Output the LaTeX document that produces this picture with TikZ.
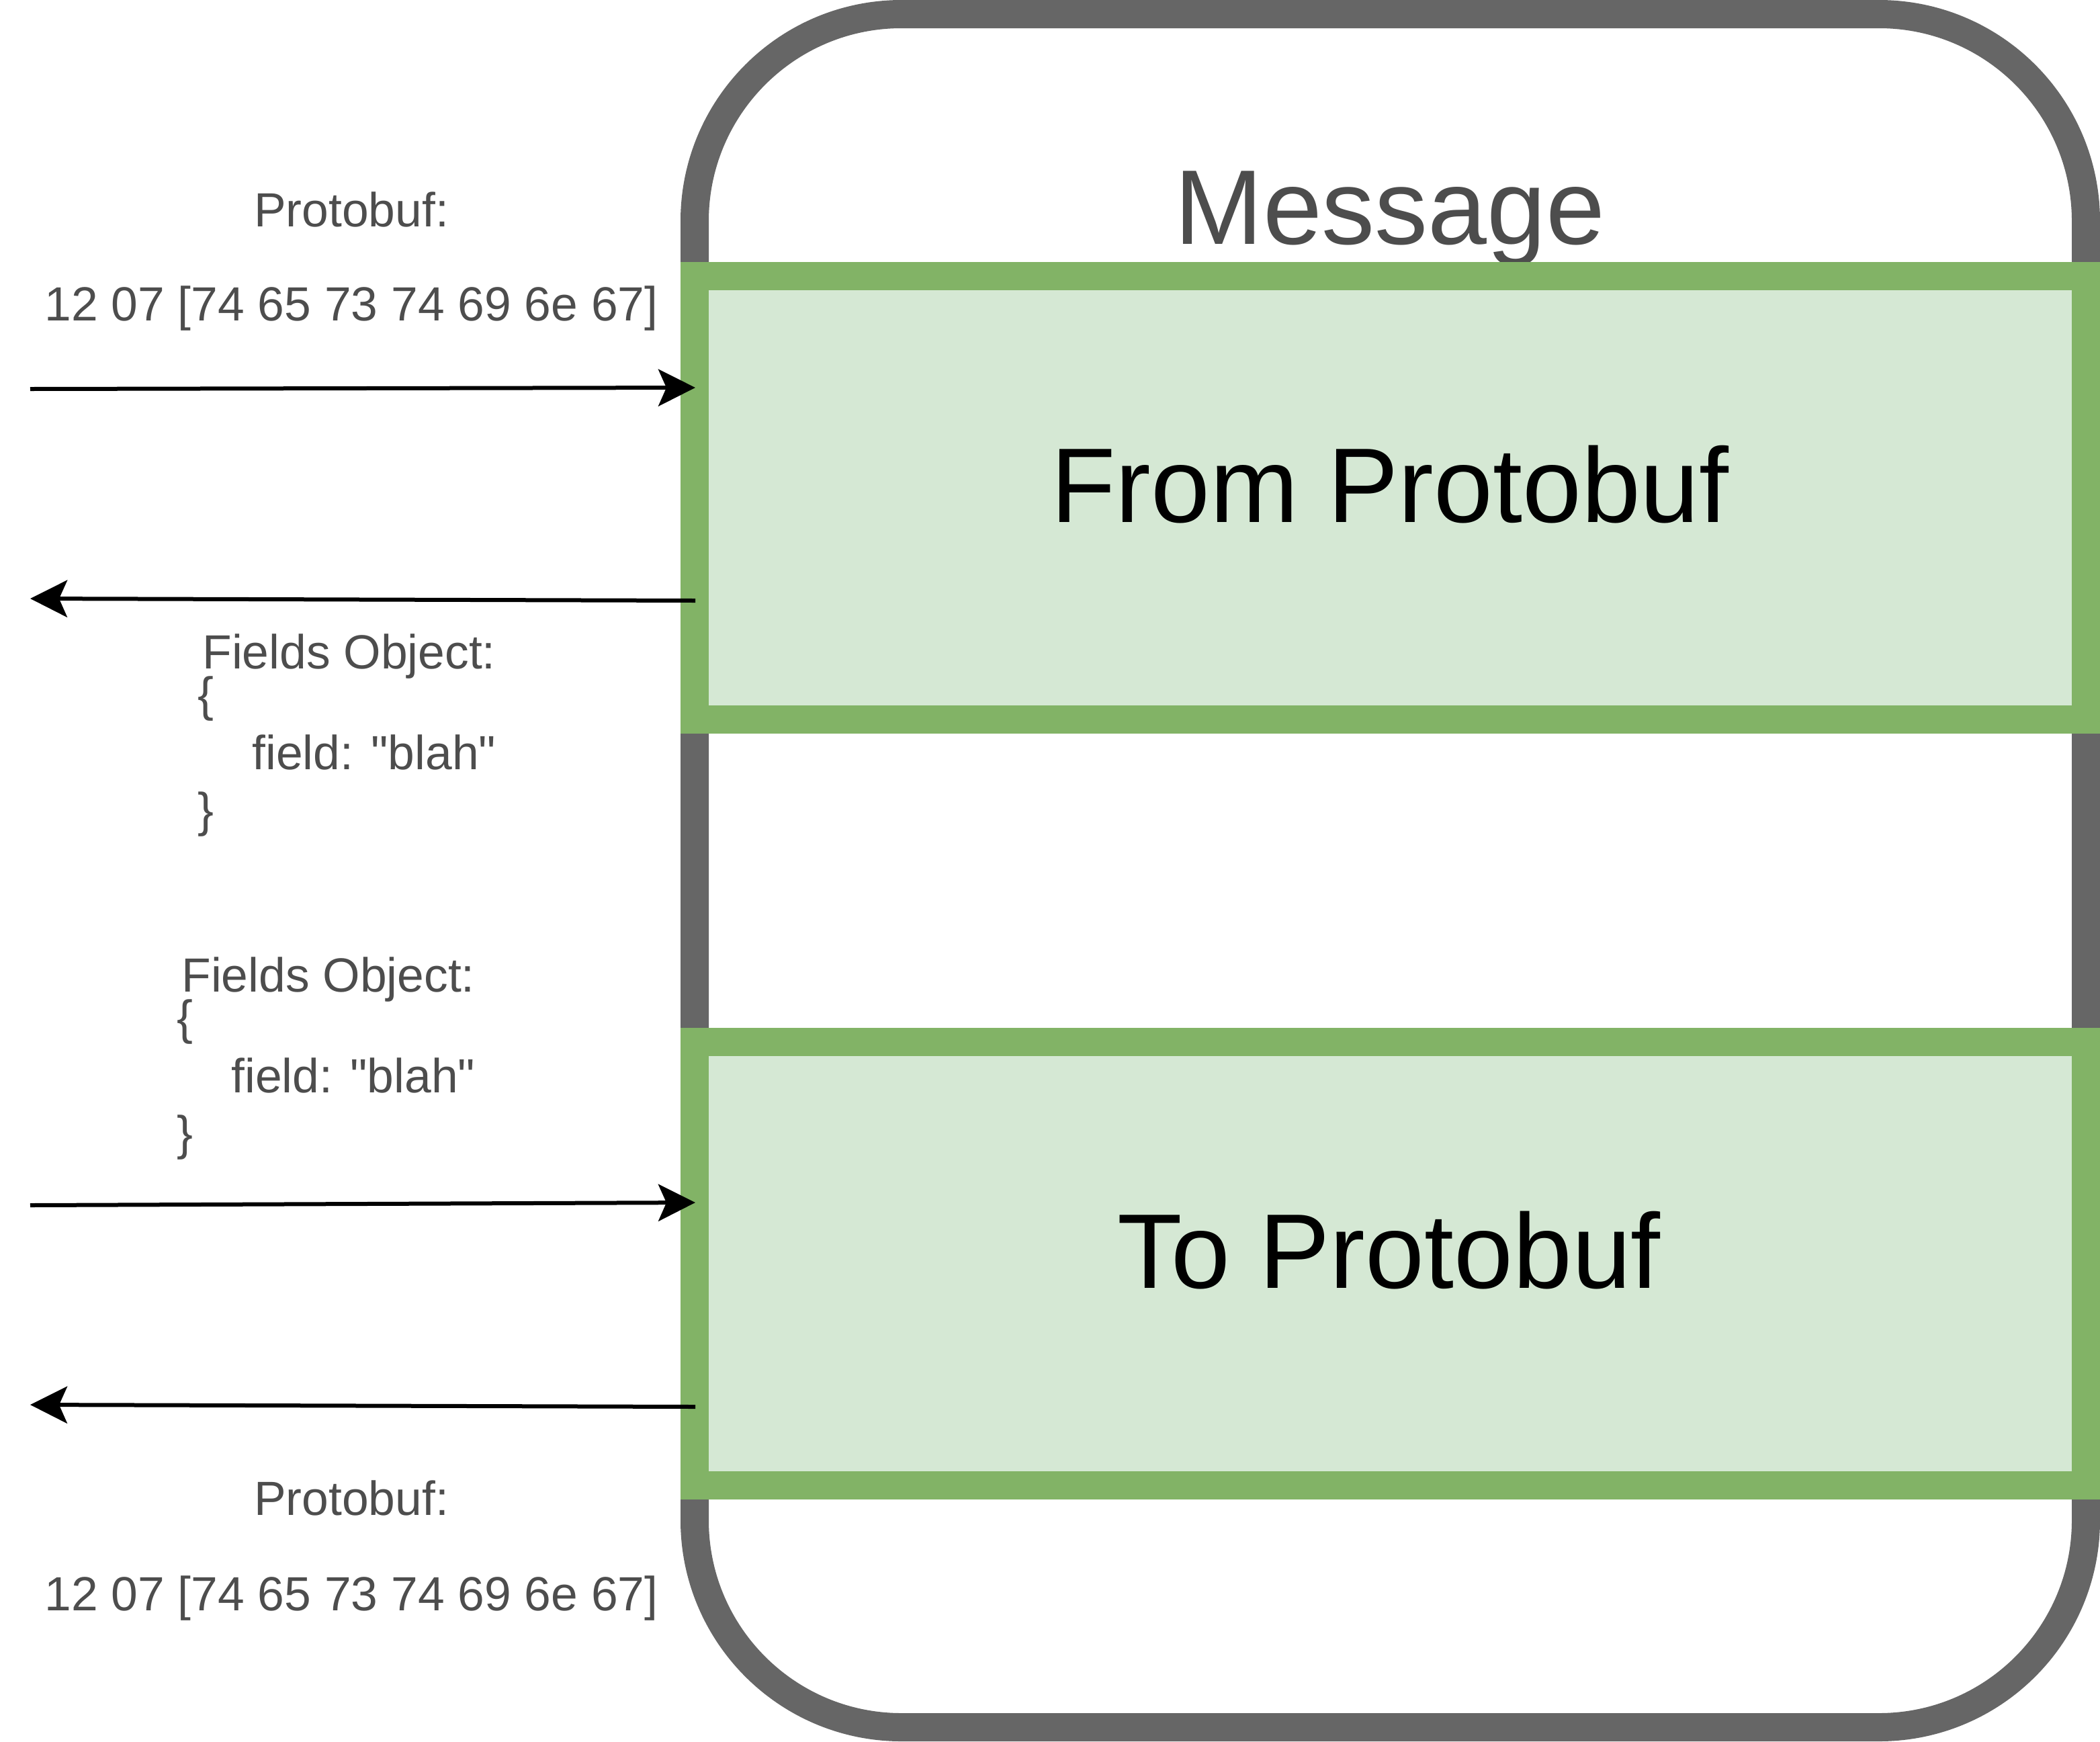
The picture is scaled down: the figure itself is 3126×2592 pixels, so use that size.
\documentclass[tikz,border=0pt]{standalone}
\usepackage{fontspec}
\setmainfont{Liberation Sans}[Ligatures=TeXOff]
\usetikzlibrary{arrows.meta}
\definecolor{outergray}{HTML}{666666}
\definecolor{greenline}{HTML}{82B366}
\definecolor{greenfill}{HTML}{D5E8D4}
\definecolor{txtgray}{HTML}{4D4D4D}
\begin{document}
\begin{tikzpicture}[x=0.5pt,y=-0.5pt,
  outerbox/.style={draw=outergray,line width=21pt,rounded corners=154pt,minimum width=1035.5pt,minimum height=1275pt,inner sep=0pt},
  greenbox/.style={draw=greenline,fill=greenfill,line width=21pt,minimum width=1035.5pt,minimum height=330pt,inner sep=0pt},
  bigtxt/.style={font=\fontsize{79}{90}\selectfont,inner sep=0pt,anchor=base},
  smalltxt/.style={font=\fontsize{35.7}{40}\selectfont,text=txtgray,inner sep=0pt},
  conn/.style={draw=black,line width=3pt,-{Stealth[length=27.5pt,width=27.5pt,inset=6pt]}}]
\fill[white] (0,0) rectangle (3126,2592);
\useasboundingbox (0,0) rectangle (3126,2592);
% outer message container
\node[outerbox] (msg) at (2069.5,1296) {};
\node[bigtxt,text=txtgray] (msglbl) at (2069,363) {Message};
% green boxes
\node[greenbox] (frombox) at (2069.5,741) {};
\node[greenbox] (tobox) at (2069.5,1880.5) {};
\node[bigtxt] (fromlbl) at (2069,777) {From Protobuf};
\node[bigtxt] (tolbl) at (2068,1917) {To Protobuf};
% left texts top
\node[smalltxt,anchor=base] (pb1) at (523,337) {Protobuf:};
\node[smalltxt,anchor=base] (hex1) at (523,477) {12 07 [74 65 73 74 69 6e 67]};
\node[smalltxt,anchor=base west] (fo1a) at (301,995) {Fields Object:};
\node[smalltxt,anchor=base west] (fo1b) at (294,1058) {\{};
\node[smalltxt,anchor=base west] (fo1c) at (375,1145) {field: "blah"};
\node[smalltxt,anchor=base west] (fo1d) at (294,1230) {\}};
% left texts bottom
\node[smalltxt,anchor=base west] (fo2a) at (270,1476) {Fields Object:};
\node[smalltxt,anchor=base west] (fo2b) at (263,1539) {\{};
\node[smalltxt,anchor=base west] (fo2c) at (344,1626) {field: "blah"};
\node[smalltxt,anchor=base west] (fo2d) at (263,1711) {\}};
\node[smalltxt,anchor=base] (pb2) at (523,2255) {Protobuf:};
\node[smalltxt,anchor=base] (hex2) at (523,2397) {12 07 [74 65 73 74 69 6e 67]};
% arrows
\coordinate (a1s) at (45,579);
\coordinate (a1e) at (1035,577);
\coordinate (a2s) at (1035,894);
\coordinate (a2e) at (45,891);
\coordinate (a3s) at (45,1794);
\coordinate (a3e) at (1035,1790);
\coordinate (a4s) at (1035,2094);
\coordinate (a4e) at (45,2091);
\draw[conn] (a1s) -- (a1e);
\draw[conn] (a2s) -- (a2e);
\draw[conn] (a3s) -- (a3e);
\draw[conn] (a4s) -- (a4e);
\end{tikzpicture}
\end{document}
